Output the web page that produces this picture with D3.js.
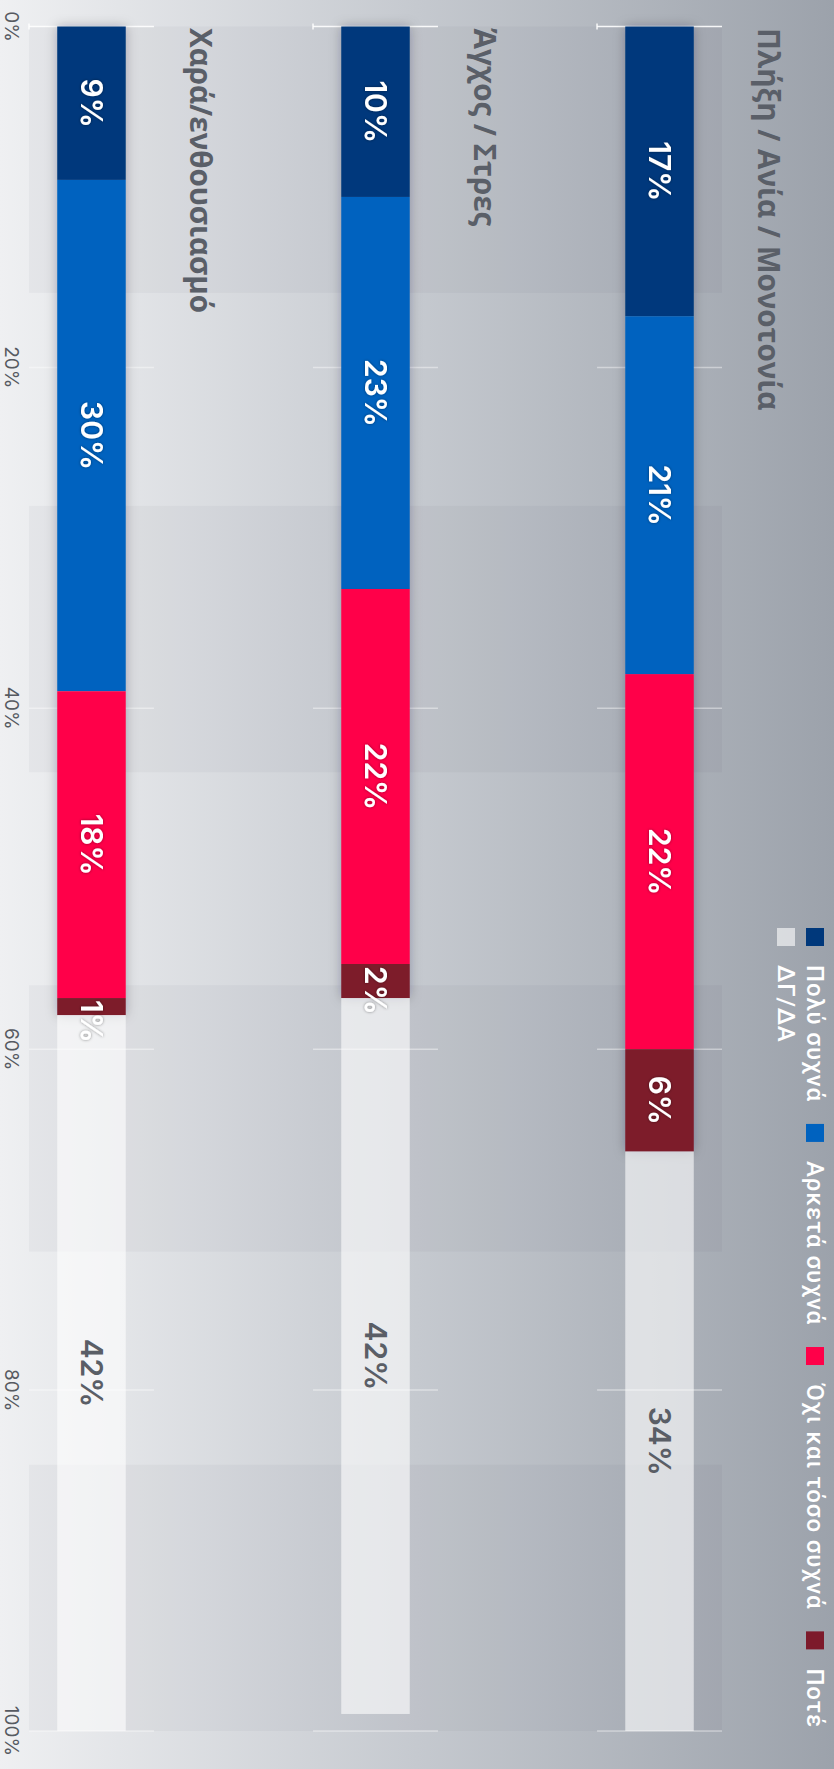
<!DOCTYPE html>
<html><head><meta charset="utf-8">
<script src="https://cdn.jsdelivr.net/npm/d3@7"></script>
<style>html,body{margin:0;padding:0;background:#fff}svg{display:block}</style>
</head><body>
<script>
// ---- data ----
const categories = ["Πλήξη / Ανία / Μονοτονία", "Άγχος / Στρες", "Χαρά/ενθουσιασμό"];
const seriesNames = ["Πολύ συχνά", "Αρκετά συχνά", "Όχι και τόσο συχνά", "Ποτέ", "ΔΓ/ΔΑ"];
const seriesColors = ["#00387b", "#0062bf", "#ff0049", "#7d1a2b", "rgba(255,255,255,0.6)"];
const veryOften  = [17, 10, 9];
const quiteOften = [21, 23, 30];
const notOften   = [22, 22, 18];
const never      = [6, 2, 1];
const dkna       = [34, 42, 42];
const tickValues = [0, 20, 40, 60, 80, 100];
const tickLabels = ["0%", "20%", "40%", "60%", "80%", "100%"];
const stripeEdges = [0, 15.625, 28.125, 43.75, 56.25, 71.875, 84.375, 100];

const seriesValues = [veryOften, quiteOften, notOften, never, dkna];

// ---- layout ----
const W = 834, H = 1769;
const svg = d3.select("body").append("svg").attr("width", W).attr("height", H);
const defs = svg.append("defs");
const bg = defs.append("linearGradient").attr("id", "bg").attr("x1", 0).attr("x2", 1).attr("y1", 0).attr("y2", 0);
bg.append("stop").attr("offset", 0).attr("stop-color", "#eff0f2");
bg.append("stop").attr("offset", 0.5).attr("stop-color", "#c5c9cf");
bg.append("stop").attr("offset", 1).attr("stop-color", "#9ca2ab");
const sh = defs.append("filter").attr("id", "barShadow").attr("x", "-20%").attr("y", "-60%").attr("width", "140%").attr("height", "220%");
sh.append("feDropShadow").attr("dx", 0).attr("dy", 0).attr("stdDeviation", 6).attr("flood-color", "#1a2030").attr("flood-opacity", 0.28);
const tsh = defs.append("filter").attr("id", "textShadow").attr("x", "-20%").attr("y", "-40%").attr("width", "140%").attr("height", "180%");
tsh.append("feDropShadow").attr("dx", 0).attr("dy", 0).attr("stdDeviation", 1.6).attr("flood-color", "#000").attr("flood-opacity", 0.45);

svg.append("rect").attr("width", W).attr("height", H).attr("fill", "url(#bg)");

// chart drawn in an unrotated frame, then rotated 90° clockwise
const g = svg.append("g").attr("transform", `translate(${W},0) rotate(90)`);

const x = d3.scaleLinear().domain([0, 100]).range([26.5, 1731]);
const y = d3.scaleBand().domain(categories).range([112, 805]).paddingInner(0.56).paddingOuter(0);
const bw = y.bandwidth();
const barW = 68.5;
const barOff = (bw - barW) / 2;

// stripes
const stripes = d3.range(0, stripeEdges.length - 1, 2);
g.append("g").selectAll("rect").data(stripes).join("rect")
  .attr("x", i => x(stripeEdges[i]))
  .attr("width", i => x(stripeEdges[i + 1]) - x(stripeEdges[i]))
  .attr("y", y.range()[0]).attr("height", y.range()[1] - y.range()[0])
  .attr("fill", "rgba(30,40,60,0.035)");

// gridlines per band
const grid = g.append("g");
categories.forEach(c => {
  grid.selectAll(null).data(tickValues).join("line")
    .attr("x1", d => x(d)).attr("x2", d => x(d))
    .attr("y1", y(c)).attr("y2", y(c) + bw)
    .attr("stroke", d => d === 0 ? "rgba(255,255,255,0.9)" : "rgba(255,255,255,0.42)")
    .attr("stroke-width", 1.5);
  grid.append("line")
    .attr("x1", x(0) - 3).attr("x2", x(0) + 3)
    .attr("y1", y(c) + bw).attr("y2", y(c) + bw)
    .attr("stroke", "rgba(255,255,255,0.9)").attr("stroke-width", 1.5);
});

// axis tick labels
g.append("g").selectAll("text").data(tickValues).join("text")
  .attr("x", d => x(d)).attr("y", 829)
  .attr("text-anchor", "middle")
  .attr("font-family", "Inter, 'Noto Sans', sans-serif").attr("font-size", 19)
  .attr("fill", "#565a61")
  .text((d, i) => tickLabels[i]);

// category labels
g.append("g").selectAll("text").data(categories).join("text")
  .attr("x", 28).attr("y", c => y(c) - 36)
  .attr("font-family", "'Open Sans', 'Noto Sans', sans-serif").attr("font-weight", 700).attr("font-size", 29.5)
  .attr("fill", "#5a5f68")
  .text(c => c);

// stacked segments
const segs = [];
categories.forEach((c, ci) => {
  let acc = 0;
  seriesValues.forEach((vals, si) => {
    const v = vals[ci];
    segs.push({c, si, v, x0: acc, x1: acc + v});
    acc += v;
  });
});
const opaque = g.append("g").attr("filter", "url(#barShadow)");
opaque.selectAll("rect").data(segs.filter(s => s.si < 4)).join("rect")
  .attr("x", s => x(s.x0)).attr("width", s => x(s.x1) - x(s.x0))
  .attr("y", s => y(s.c) + barOff).attr("height", barW)
  .attr("fill", s => seriesColors[s.si]);
g.append("g").selectAll("rect").data(segs.filter(s => s.si === 4)).join("rect")
  .attr("x", s => x(s.x0)).attr("width", s => x(s.x1) - x(s.x0))
  .attr("y", s => y(s.c) + barOff).attr("height", barW)
  .attr("fill", s => seriesColors[s.si]);

// value labels
const lab = g.append("g");
segs.forEach(s => {
  const t = lab.append("text")
    .attr("font-family", "Inter, 'Noto Sans', sans-serif").attr("font-weight", 600).attr("font-size", 30)
    .attr("fill", s.si === 4 ? "#5a5e66" : "#fff")
    .attr("y", y(s.c) + bw / 2).attr("dy", "0.36em")
    .text(s.v + "%");
  if (s.si !== 4) t.attr("filter", "url(#textShadow)");
  const w = t.node().getComputedTextLength();
  const segW = x(s.x1) - x(s.x0);
  if (w > segW - 4) t.attr("x", x(s.x0) + 2).attr("text-anchor", "start");
  else t.attr("x", (x(s.x0) + x(s.x1)) / 2).attr("text-anchor", "middle");
});

// legend
const leg = g.append("g");
const legFont = {family: "Roboto, 'Noto Sans', sans-serif", size: 24, weight: 500, spacing: 0.9};
const rows = [[0, 1, 2, 3], [4]];
rows.forEach((row, ri) => {
  let cx = 928;
  const base = 27 + ri * 29;
  row.forEach(si => {
    leg.append("rect").attr("x", cx).attr("y", base - 17).attr("width", 18).attr("height", 18)
      .attr("fill", seriesColors[si]);
    const t = leg.append("text").attr("x", cx + 37).attr("y", base)
      .attr("font-family", legFont.family).attr("font-size", legFont.size).attr("font-weight", legFont.weight)
      .attr("letter-spacing", legFont.spacing)
      .attr("fill", "#fff").text(seriesNames[si]);
    cx += 37 + t.node().getComputedTextLength() + 22;
  });
});
</script>
</body></html>
